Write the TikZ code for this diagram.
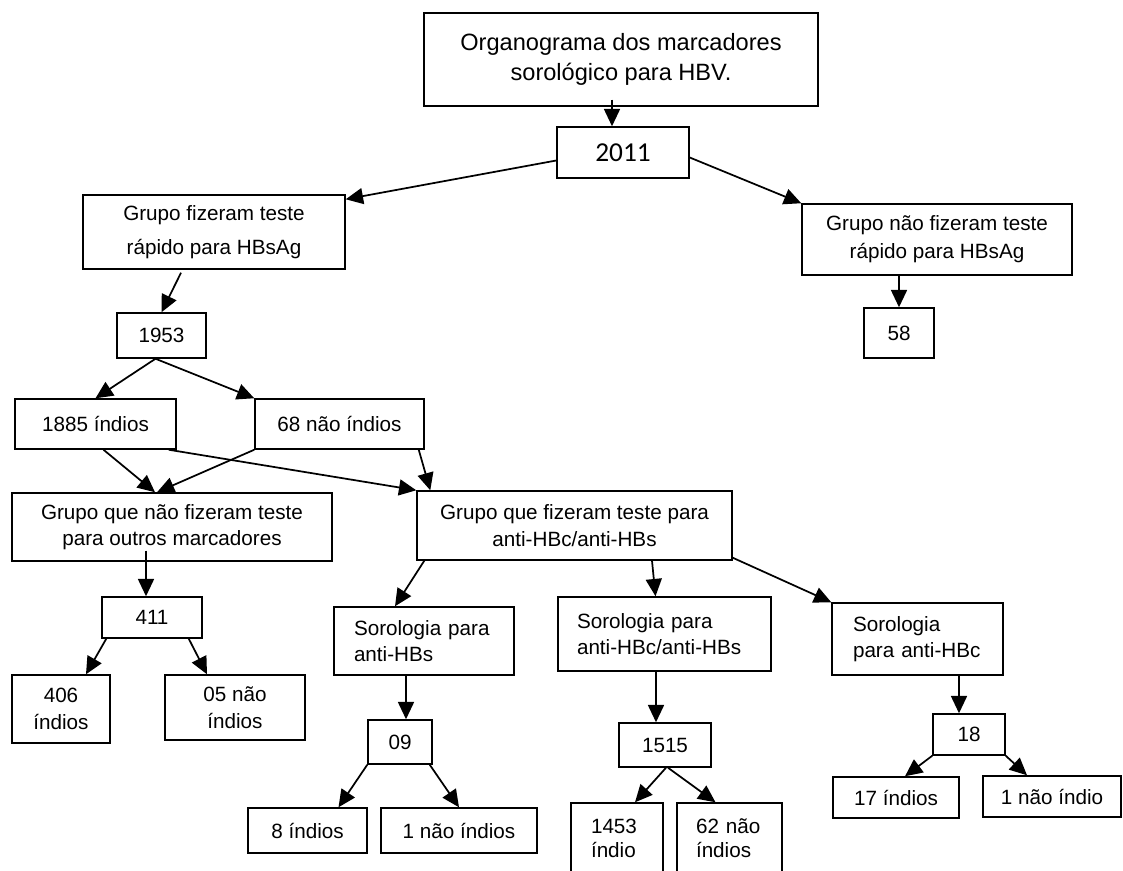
\documentclass[tikz,border=0pt]{standalone}
\usepackage{fontspec}
\setmainfont{Liberation Sans}
\newfontfamily\calibri{Carlito}
\usetikzlibrary{arrows.meta,calc}
\newdimen\pix
\pix=0.75pt

\tikzset{
    caixa/.style 2 args={draw, line width=1.1pt, inner sep=2pt, align=center,
        minimum width=#1\pix, minimum height=#2\pix,
        font=\fontsize{15.5}{20}\selectfont},
    esq/.style 2 args={align=left, text width=#1\pix, inner xsep=#2\pix},
    seta/.style={-{Triangle[length=13pt,width=12pt]}, line width=1.3pt}
}

\begin{document}
\begin{tikzpicture}[x=\pix, y=-\pix]
        \useasboundingbox (0,0) rectangle (1123,870);

        \node[caixa={394}{93}, font=\fontsize{17.7}{22.5}\selectfont] (titulo) at (621,59.5) {Organograma dos marcadores\\sorológico para HBV.};
        \node[caixa={132}{51}, font=\calibri\fontsize{20.5}{24}\selectfont] (ano) at (623,152.5) {2011};

        \node[caixa={262}{74}, font=\fontsize{15.5}{26}\selectfont] (gfz) at (214,232) {Grupo fizeram teste\\rápido para HBsAg};
        \node[caixa={270}{71}, font=\fontsize{15.5}{21}\selectfont] (gnf) at (937,239.5) {Grupo não fizeram teste\\rápido para HBsAg};
        \node[caixa={70}{50}] (n58) at (899,333) {58};

        \node[caixa={89}{45}] (n1953) at (161.5,335.5) {1953};
        \node[caixa={161}{50}] (n1885) at (95.5,424) {1885 índios};
        \node[caixa={169}{50}] (n68) at (339.5,424) {68 não índios};

        \node[caixa={320}{68}] (gqn) at (172,527) {Grupo que não fizeram teste\\para outros marcadores};
        \node[caixa={315}{69}] (gqf) at (574.5,525.5) {Grupo que fizeram teste para\\anti-HBc/anti-HBs};

        \node[caixa={100}{41}] (n411) at (152,617.5) {411};
        \node[caixa={98}{68}] (n406) at (61,709) {406\\índios};
        \node[caixa={140}{65}] (n05) at (235,707.5) {05 não\\índios};

        \node[caixa={180}{68}, esq={140}{20}, font=\fontsize{15.5}{19}\selectfont] (sah) at (424,641) {Sorologia para\\anti-HBs};
        \node[caixa={64}{44}] (n09) at (400,742) {09};
        \node[caixa={119}{45}] (n8) at (307.5,830.5) {8 índios};
        \node[caixa={156}{45}] (n1n) at (459,830.5) {1 não índios};

        \node[caixa={213}{74}, esq={175}{19}] (sahcs) at (664.5,634) {Sorologia para\\anti-HBc/anti-HBs};
        \node[caixa={92}{44}] (n1515) at (665,745) {1515};
        \node[caixa={92}{70}, esq={52}{20}, font=\fontsize{15.5}{18}\selectfont] (n1453) at (617,838) {1453\\índio};
        \node[caixa={105}{70}, esq={67}{19}, font=\fontsize{15.5}{18}\selectfont] (n62) at (729.5,838) {62 não\\índios};

        \node[caixa={171}{72}, esq={129}{21}, font=\fontsize{15.5}{19}\selectfont] (sac) at (917.5,639) {Sorologia\\para anti-HBc};
        \node[caixa={72}{41}] (n18) at (969,734.5) {18};
        \node[caixa={126}{41}] (n17) at (896,797.5) {17 índios};
        \node[caixa={138}{41}] (n1ni) at (1052,796.5) {1 não índio};

        \draw[seta] ($(titulo.south)+(-9,-7)$) -- ($(ano.north)+(-11,0)$);
        \draw[seta] ($(ano.west)+(0,8)$) -- ($(gfz.north east)+(0,5)$);
        \draw[seta] ($(ano.east)+(0,5)$) -- (gnf.north west);
        \draw[seta] (n58.north |- gnf.south) -- (n58.north);

        \draw[seta] ($(gfz.south)+(-33,3)$) -- (n1953.north);
        \draw[seta] ($(n1953.south)+(-6,0)$) -- (n1885.north);
        \draw[seta] ($(n1953.south)+(-6,0)$) -- (n68.north west);

        \draw[seta] ($(n1885.south)+(8,0)$) -- ($(gqn.north)+(-17,0)$);
        \draw[seta] (n68.south west) -- ($(gqn.north)+(-15,0)$);
        \draw[seta] ($(n1885.south east)+(-8,0)$) -- (gqf.north west);
        \draw[seta] ($(n68.south east)+(-6,0)$) -- ($(gqf.north west)+(14,0)$);

        \draw[seta] ($(n411.north |- gqn.south)+(-6,-11)$) -- ($(n411.north)+(-6,0)$);
        \draw[seta] ($(n411.south west)+(5,0)$) -- ($(n406.north)+(25,0)$);
        \draw[seta] ($(n411.south east)+(-14,0)$) -- ($(n05.north)+(-28,0)$);

        \draw[seta] ($(gqf.south west)+(8,0)$) -- ($(sah.north)+(-29,0)$);
        \draw[seta] ($(gqf.south)+(77.5,0)$) -- ($(sahcs.north)+(-9,0)$);
        \draw[seta] ($(gqf.south east)+(0,-3)$) -- (sac.north west);

        \draw[seta] ($(n09.north |- sah.south)+(6,0)$) -- ($(n09.north)+(6,0)$);
        \draw[seta] (n09.south west) -- ($(n8.north)+(31,0)$);
        \draw[seta] ($(n09.south east)+(-3,0)$) -- (n1n.north);

        \draw[seta] ($(n1515.north |- sahcs.south)+(-9,0)$) -- ($(n1515.north)+(-9,0)$);
        \draw[seta] ($(n1515.south)+(1,0)$) -- ($(n1453.north)+(18,0)$);
        \draw[seta] ($(n1515.south)+(3,0)$) -- ($(n62.north)+(-14,0)$);

        \draw[seta] ($(n18.north |- sac.south)+(-10,0)$) -- ($(n18.north)+(-10,0)$);
        \draw[seta] (n18.south west) -- ($(n17.north)+(9,0)$);
        \draw[seta] (n18.south east) -- ($(n1ni.north)+(-25,0)$);
    \end{tikzpicture}
\end{document}
